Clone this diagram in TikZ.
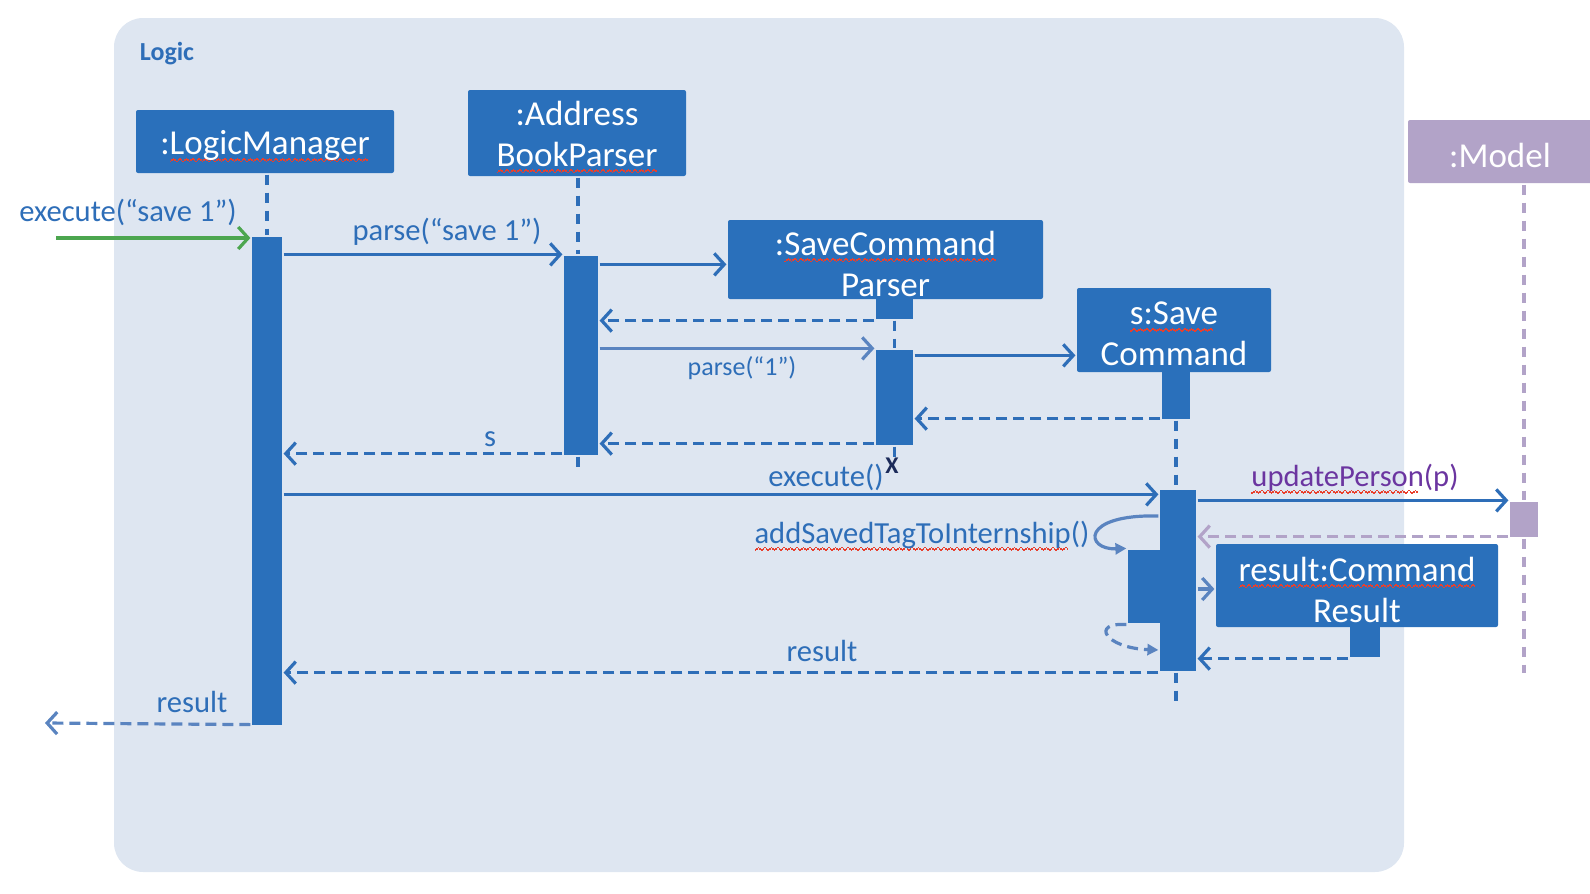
\documentclass[tikz,border=0pt]{standalone}
\usepackage{fontspec}
\setmainfont{Carlito}
\usetikzlibrary{arrows.meta,positioning}
\definecolor{boxblue}{HTML}{2A70BB}
\definecolor{lineblue}{HTML}{2E6EB8}
\definecolor{softblue}{HTML}{5A84C0}
\definecolor{bgblue}{HTML}{DEE6F1}
\definecolor{callgreen}{HTML}{4CA64F}
\definecolor{modelpurple}{HTML}{B2A3C8}
\definecolor{labelpurple}{HTML}{6B35A0}
\definecolor{spellred}{HTML}{E8402E}
\definecolor{xnavy}{HTML}{1C2B5A}
\newsavebox\spellbox
\newcommand\spell[1]{\sbox\spellbox{#1}\rlap{\color{spellred}\lower3.6pt\hbox to\wd\spellbox{\leaders\hbox{\rule{0.8pt}{0.8pt}\rule[0.6pt]{0.8pt}{0.8pt}\rule[1.2pt]{0.8pt}{0.8pt}\rule[0.6pt]{0.8pt}{0.8pt}}\hfil}}\usebox\spellbox}
\tikzset{
	every path/.style = {line width=1.6pt},
	obj/.style = {fill=boxblue, inner sep=0pt, rounded corners=1pt},
	boxtext/.style = {text=white, align=center, inner sep=0pt, yshift=-2pt, font=\fontsize{17.5}{20.5}\selectfont},
	act/.style = {fill=boxblue, inner sep=0pt},
	life/.style = {draw=lineblue, dash pattern=on 5pt off 4pt},
	msg/.style = {draw=lineblue, -{Straight Barb[length=5pt,width=11pt]}},
	ret/.style = {msg, dash pattern=on 5.5pt off 3pt},
	selfcall/.style = {draw=softblue, -{Triangle[length=5.5pt,width=5.5pt]}},
	lbl/.style = {text=lineblue, inner sep=0pt, font=\fontsize{15.3}{18}\selectfont}
}

\begin{document}
\begin{tikzpicture}[x=0.5pt, y=-0.5pt]
	\useasboundingbox (0,0) rectangle (1590,894);
	\fill[bgblue, rounded corners=14.5pt] (114,18) rectangle (1404,872);
	\node[text=lineblue, inner sep=0pt, font=\fontsize{13}{15}\selectfont\bfseries] (logic) at (167,54) {Logic};
	\node[obj, minimum width=129pt, minimum height=31.5pt, label={[boxtext, yshift=-0.5pt]center:{:\spell{LogicManager}}}] (lm) at (265,141.5) {};
	\node[obj, minimum width=109pt, minimum height=43pt, label={[boxtext]center:{:Address\\\spell{BookParser}}}] (abp) at (577,133) {};
	\node[obj, minimum width=157.5pt, minimum height=39.5pt, label={[boxtext]center:{:\spell{SaveCommand}\\Parser}}] (scp) at (885.5,259.5) {};
	\node[obj, minimum width=97pt, minimum height=42pt, label={[boxtext]center:{\spell{s:Save}\\Command}}] (sc) at (1174,330) {};
	\node[obj, minimum width=141pt, minimum height=41.5pt, label={[boxtext]center:{\spell{result:Command}\\Result}}] (res) at (1357,585.5) {};
	\node[obj, fill=modelpurple, minimum width=92pt, minimum height=31.5pt, label={[boxtext]center:{:Model}}] (model) at (1500,151.5) {};
	\node[act, minimum width=15pt, minimum height=244pt] (lmA) at (267,481) {};
	\node[act, minimum width=17pt, minimum height=99.5pt] (abpA) at (581,355.5) {};
	\node[act, minimum width=18.5pt, minimum height=10pt] (scpT) at (894.5,309) {};
	\node[act, minimum width=18.5pt, minimum height=47.5pt] (scpA) at (894.5,397.5) {};
	\node[act, minimum width=14pt, minimum height=23.5pt] (scT) at (1176,395.5) {};
	\node[act, minimum width=18pt, minimum height=90.5pt] (scA) at (1178,580.5) {};
	\node[act, minimum width=16pt, minimum height=36.5pt] (scN) at (1144,586.5) {};
	\node[act, minimum width=15pt, minimum height=15pt] (resT) at (1365,642) {};
	\node[act, fill=modelpurple, minimum width=14pt, minimum height=17.5pt] (modelA) at (1524,519.5) {};
	\coordinate (in) at (56,238);
	\coordinate (out) at (45,723);
	\coordinate (abpE) at (578,472);
	\coordinate (scpE) at (894.5,460);
	\coordinate (scE) at (1176,708);
	\coordinate (modelE) at (1524,673);
	\draw[life] (lm.south -| lmA.north) -- (lmA.north);
	\draw[life] (abp.south -| abpE) -- (abpA.north -| abpE);
	\draw[life] (abpA.south -| abpE) -- (abpE);
	\draw[life] (scpT) -- (scpA);
	\draw[life] (scpA.south) -- (scpE);
	\draw[life] (scT.south) -- (scT.south |- scA.north);
	\draw[life] (scA.south -| scE) -- (scE);
	\draw[life, draw=modelpurple] (model.south -| modelA) -- (modelA);
	\draw[life, draw=modelpurple] (modelA) -- (modelE);
	\draw[msg, draw=callgreen] (in) -- (in -| lmA.west);
	\node[lbl] (exec) at (128,212) {execute(“save 1”)};
	\draw[msg] (lmA.east |- abpA.north) -- (abpA.north west);
	\node[lbl] (parse) at (447,232) {parse(“save 1”)};
	\draw[msg] ([yshift=-5pt]abpA.north east) -- ([yshift=-5pt]abpA.north east -| scp.west);
	\draw[ret] (scpT.south west) -- (scpT.south west -| abpA.east);
	\draw[msg, draw=softblue] (abpA.east |- scpA.north) -- (scpA.north west);
	\node[lbl, font=\fontsize{13}{15}\selectfont] (parseone) at (742,368) {parse(“1”)};
	\draw[msg] ([yshift=-3.5pt]scpA.north east) -- ([yshift=-3.5pt]scpA.north east -| sc.west);
	\draw[ret] ([yshift=1pt]scT.south west) -- ([yshift=1pt]scT.south west -| scpA.east);
	\draw[ret] ([yshift=1.5pt]scpA.south west) -- ([yshift=1.5pt]scpA.south west -| abpA.east);
	\draw[ret] ([yshift=1.5pt]abpA.south west) -- ([yshift=1.5pt]abpA.south west -| lmA.east);
	\node[lbl] (s) at (490,439) {s};
	\node[text=xnavy, inner sep=0pt, font=\fontsize{12}{14}\selectfont\bfseries] (x) at (892,466) {X};
	\draw[msg] ([yshift=-3pt]scA.north west -| lmA.east) -- ([yshift=-3pt]scA.north west);
	\node[lbl] (execsc) at (826,477) {execute()};
	\draw[msg] (scA.east |- modelA.north) -- (modelA.north west);
	\node[lbl, text=labelpurple] (update) at (1355,479) {\spell{updatePerson}(p)};
	\draw[ret, draw=modelpurple] ([yshift=1pt]modelA.south west) -- ([yshift=1pt]modelA.south west -| scA.east);
	\draw[selfcall] (scA.west |- 0,516) .. controls (1080,514) and (1085,550) .. (scN.north west);
	\node[lbl] (addtag) at (922,536) {\spell{addSavedTagToInternship}()};
	\draw[selfcall, dash pattern=on 5.5pt off 3pt] (scN.south west) .. controls (1090,622) and (1105,648) .. (scA.west |- 0,650);
	\draw[msg, draw=softblue] (scA.east |- 0,589) -- (res.west |- 0,589);
	\draw[ret] (resT.south west) -- (resT.south west -| scA.east);
	\draw[ret] (scA.south west) -- (scA.south west -| lmA.east);
	\node[lbl] (result) at (822,651) {result};
	\draw[ret, draw=softblue] ([yshift=1pt]lmA.south west) -- (out);
	\node[lbl] (resultout) at (192,702) {result};
\end{tikzpicture}
\end{document}
